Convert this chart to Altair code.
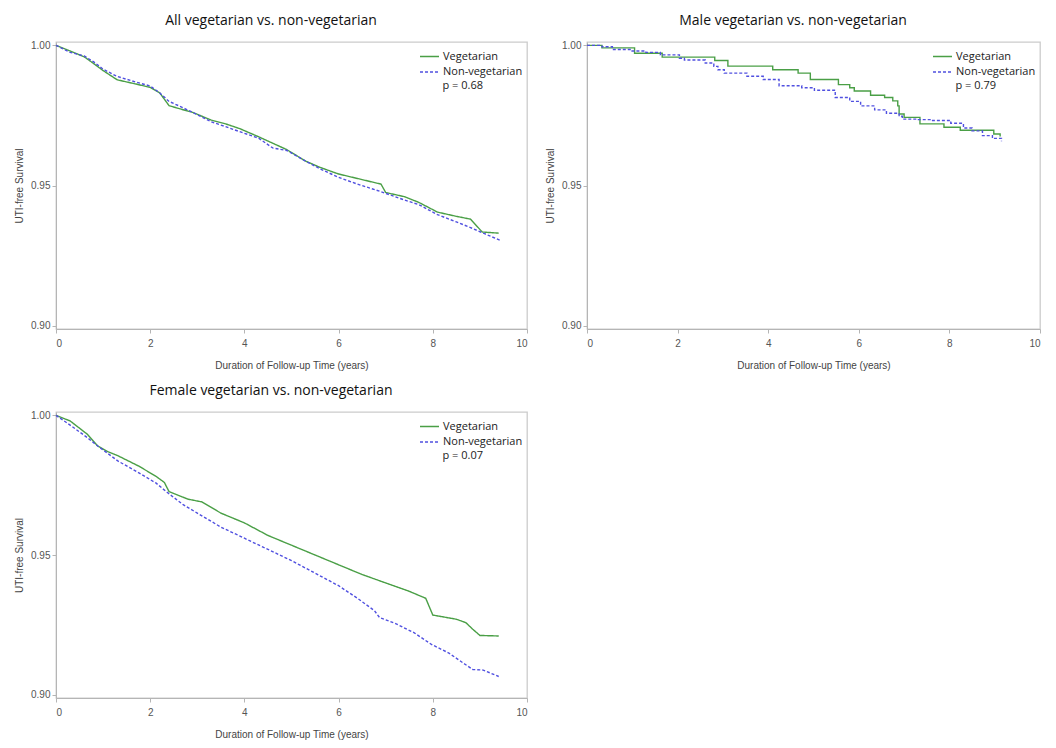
import altair as alt
import pandas as pd

# ---------------- data ----------------
groups = ["Vegetarian", "Non-vegetarian"]
colors = ["#4a9f46", "#5050e0"]
dashes = [[1, 0], [3, 2]]
x_ticks = [0, 2, 4, 6, 8, 10]
y_ticks = [0.90, 0.95, 1.00]

# All participants
all_veg_t = [0, 0.3, 0.6, 0.8, 1.0, 1.3, 1.7, 2.0, 2.2, 2.4, 2.6, 2.9, 3.3, 3.6, 3.9, 4.3, 4.6, 4.9,
             5.3, 5.6, 6.0, 6.4, 6.9, 7.0, 7.4, 7.7, 8.1, 8.5, 8.8, 9.05, 9.4]
all_veg_s = [1.000, 0.9980, 0.9959, 0.9935, 0.9910, 0.9877, 0.9862, 0.9850, 0.9831, 0.9785, 0.9775,
             0.9761, 0.9733, 0.9720, 0.9703, 0.9674, 0.9651, 0.9628, 0.9587, 0.9565, 0.9541, 0.9525,
             0.9505, 0.9475, 0.9460, 0.9440, 0.9405, 0.9390, 0.9380, 0.9334, 0.9330]
all_non_t = [0, 0.3, 0.6, 0.8, 1.0, 1.3, 1.7, 2.0, 2.2, 2.4, 2.6, 2.9, 3.3, 3.6, 3.9, 4.3, 4.6, 4.9,
             5.3, 5.6, 6.0, 6.4, 6.9, 7.4, 7.7, 8.1, 8.5, 8.8, 9.1, 9.42]
all_non_s = [1.000, 0.9975, 0.9962, 0.9941, 0.9915, 0.9889, 0.9869, 0.9855, 0.9831, 0.9800, 0.9785,
             0.9761, 0.9727, 0.9710, 0.9692, 0.9669, 0.9634, 0.9625, 0.9587, 0.9560, 0.9529, 0.9505,
             0.9478, 0.9448, 0.9432, 0.9396, 0.9370, 0.9350, 0.9328, 0.9305]

# Male
male_veg_t = [0, 0.33, 1.05, 1.66, 2.82, 3.11, 4.10, 4.66, 4.93, 5.55, 5.80, 5.90, 6.26, 6.57, 6.75,
              6.86, 6.89, 7.0, 7.35, 7.88, 8.24, 8.98, 9.12]
male_veg_s = [1.000, 0.9991, 0.9972, 0.9958, 0.9946, 0.9926, 0.9913, 0.9901, 0.9878, 0.9860, 0.9849,
              0.9837, 0.9822, 0.9814, 0.9802, 0.9784, 0.9755, 0.9743, 0.9720, 0.9708, 0.9697, 0.9684,
              0.9675]
male_non_t = [0, 0.33, 0.56, 0.98, 1.3, 1.62, 2.04, 2.15, 2.61, 2.8, 2.89, 3.03, 3.53, 3.89, 4.24,
              4.74, 5.02, 5.48, 5.8, 6.04, 6.35, 6.61, 6.89, 6.96, 7.3, 7.6, 8.03, 8.31, 8.5, 8.73,
              8.95, 9.15]
male_non_s = [1.000, 0.9995, 0.9985, 0.9980, 0.9975, 0.9966, 0.9954, 0.9948, 0.9937, 0.9925, 0.9913,
              0.9901, 0.9890, 0.9878, 0.9856, 0.9849, 0.9840, 0.9814, 0.9800, 0.9784, 0.9770, 0.9758,
              0.9747, 0.9737, 0.9735, 0.9732, 0.9722, 0.9705, 0.9695, 0.9678, 0.9668, 0.9658]

# Female
fem_veg_t = [0, 0.3, 0.66, 0.88, 1.1, 1.32, 1.76, 2.12, 2.3, 2.4, 2.8, 3.1, 3.5, 4.0, 4.5, 5.0, 5.5,
             6.0, 6.5, 7.0, 7.5, 7.85, 8.0, 8.5, 8.7, 8.85, 9.0, 9.4]
fem_veg_s = [1.000, 0.9980, 0.9933, 0.9891, 0.9870, 0.9855, 0.9818, 0.9782, 0.9760, 0.9727, 0.9700,
             0.9690, 0.9650, 0.9615, 0.9570, 0.9535, 0.9500, 0.9465, 0.9430, 0.9400, 0.9370, 0.9345,
             0.9285, 0.9270, 0.9258, 0.9234, 0.9212, 0.9210]
fem_non_t = [0, 0.3, 0.66, 0.88, 1.32, 1.76, 2.12, 2.34, 2.7, 3.0, 3.5, 4.0, 4.5, 5.0, 5.5, 6.0, 6.4,
             6.76, 6.87, 7.2, 7.6, 7.97, 8.34, 8.7, 8.85, 9.07, 9.4]
fem_non_s = [1.000, 0.9965, 0.9921, 0.9891, 0.9836, 0.9794, 0.9758, 0.9727, 0.9680, 0.9650, 0.9600,
             0.9560, 0.9520, 0.9480, 0.9435, 0.9390, 0.9345, 0.9301, 0.9276, 0.9255, 0.9222, 0.9180,
             0.9149, 0.9107, 0.9090, 0.9088, 0.9065]

titles = ["All vegetarian vs. non-vegetarian",
          "Male vegetarian vs. non-vegetarian",
          "Female vegetarian vs. non-vegetarian"]
p_values = ["p = 0.68", "p = 0.79", "p = 0.07"]

# ---------------- styling ----------------
TITLE_FONT = "Open Sans"
AXIS_FONT = "'Liberation Sans', Arial, sans-serif"


def km_frame(vt, vs, nt, ns):
    a = pd.DataFrame({"t": vt, "s": vs, "group": groups[0]})
    b = pd.DataFrame({"t": nt, "s": ns, "group": groups[1]})
    return pd.concat([a, b], ignore_index=True)


def panel(df, title, pval, interp, width, height):
    leg_x = width - 108
    legend = alt.Legend(orient="none", legendX=leg_x, legendY=9, title=None,
                        symbolType="stroke", symbolSize=361, symbolStrokeWidth=1.5,
                        clipHeight=11, rowPadding=3.5, padding=0,
                        labelFont=TITLE_FONT, labelFontSize=11, labelColor="#222222",
                        labelOffset=3)
    color = alt.Color("group:N", scale=alt.Scale(domain=groups, range=colors), legend=legend)
    dash = alt.StrokeDash("group:N", scale=alt.Scale(domain=groups, range=dashes), legend=legend)
    lines = alt.Chart(df).mark_line(interpolate=interp, strokeWidth=1.4).encode(
        x=alt.X("t:Q", scale=alt.Scale(domain=[0, 10], nice=False),
                axis=alt.Axis(values=x_ticks, format="d",
                              title="Duration of Follow-up Time (years)")),
        y=alt.Y("s:Q", scale=alt.Scale(domain=[0.8988, 1.0012], nice=False, zero=False),
                axis=alt.Axis(values=y_ticks, format=".2f", title="UTI-free Survival")),
        color=color,
        strokeDash=dash,
        order=alt.Order("t:Q"),
    )
    ptext = alt.Chart(pd.DataFrame({"label": [pval]})).mark_text(
        align="left", baseline="middle", font=TITLE_FONT, fontSize=11, color="#222222"
    ).encode(text="label:N", x=alt.value(leg_x + 23.5), y=alt.value(44))
    return alt.layer(lines, ptext).properties(
        width=width, height=height,
        title=alt.TitleParams(title, font=TITLE_FONT, fontSize=14, fontWeight="normal",
                              color="#111111", anchor="middle", frame="bounds", offset=12),
    )


p1 = panel(km_frame(all_veg_t, all_veg_s, all_non_t, all_non_s), titles[0], p_values[0], "linear", 471, 287)
p2 = panel(km_frame(male_veg_t, male_veg_s, male_non_t, male_non_s), titles[1], p_values[1], "step-after", 453, 287)
p3 = panel(km_frame(fem_veg_t, fem_veg_s, fem_non_t, fem_non_s), titles[2], p_values[2], "linear", 471, 286)

top = alt.hconcat(p1, p2, spacing=15).resolve_scale(
    color="independent", strokeDash="independent").resolve_legend(
    color="independent", strokeDash="independent")

chart = alt.vconcat(top, p3, spacing=12).resolve_scale(
    color="independent", strokeDash="independent").resolve_legend(
    color="independent", strokeDash="independent").properties(
    padding={"left": 5, "top": 5, "right": 0, "bottom": 0},
    background="white",
).configure_view(
    stroke="#cccccc", strokeWidth=1.3
).configure_axis(
    grid=False,
    domainColor="#b5b5b5", tickColor="#b5b5b5", tickSize=4,
    labelFont=AXIS_FONT, labelFontSize=10, labelColor="#555555",
    titleFont=AXIS_FONT, titleFontSize=10, titleColor="#444444", titleFontWeight="normal",
).configure_axisX(
    labelPadding=5, titlePadding=12
).configure_axisY(
    labelPadding=2, titlePadding=6
)

chart.save("out.html", embed_options={"renderer": "svg", "actions": False})
